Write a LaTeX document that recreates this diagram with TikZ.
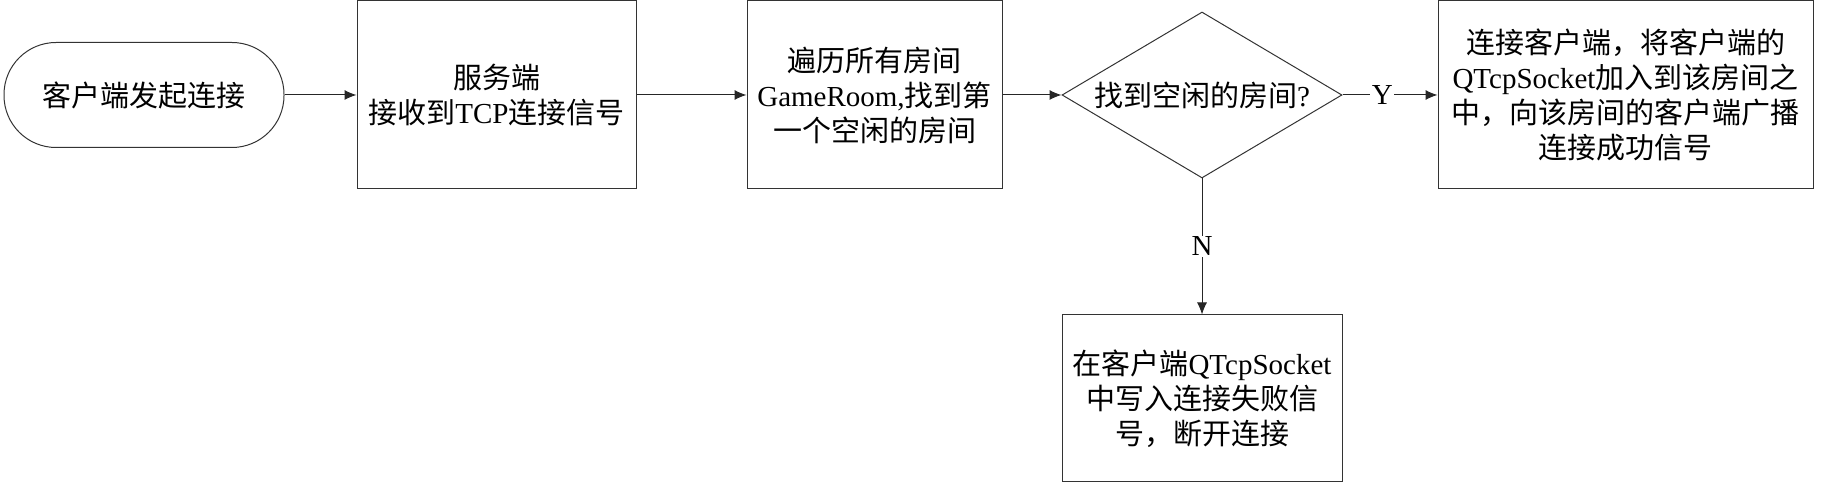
\documentclass[tikz,border=0pt]{standalone}
\usepackage{fontspec}
\setmainfont{Liberation Serif}
\newfontfamily\cjk{Noto Sans CJK SC}
\newcommand{\zh}[1]{{\cjk #1}}
\usetikzlibrary{shapes.geometric,arrows.meta}

\begin{document}
\begin{tikzpicture}[x=1pt,y=1pt,
	box/.style={draw=black!80, line width=1pt, align=center, inner sep=0pt,
		font=\fontsize{29}{35}\selectfont},
	arr/.style={draw=black!85, line width=1pt, -{Latex[length=12pt,width=10pt]}},
	lbl/.style={fill=white, inner sep=1.5pt, font=\fontsize{29}{32}\selectfont}]
			\useasboundingbox (0,0) rectangle (1825,484);
			\node[box, rounded corners=52pt, minimum width=280, minimum height=105] (start) at (144,389) {\zh{客户端发起连接}};
			\node[box, minimum width=279, minimum height=188] (recv) at (496.5,389) {\zh{服务端}\\\zh{接收到}TCP\zh{连接信号}};
			\node[box, minimum width=255, minimum height=188] (scan) at (874.5,389) {\zh{遍历所有房间}\\GameRoom,\zh{找到第}\\\zh{一个空闲的房间}};
			\node[box, diamond, aspect=1.687, minimum width=280, minimum height=166] (found) at (1202,389) {\zh{找到空闲的房间}?};
			\node[box, minimum width=375, minimum height=188] (join) at (1625.5,389) {\zh{连接客户端，将客户端的}\\QTcpSocket\zh{加入到该房间之}\\\zh{中，向该房间的客户端广播}\\\zh{连接成功信号}};
			\node[box, minimum width=280, minimum height=167] (fail) at (1202,85.5) {\zh{在客户端}QTcpSocket\\\zh{中写入连接失败信}\\\zh{号，断开连接}};
			\draw[arr] (start) -- (recv);
			\draw[arr] (recv) -- (scan);
			\draw[arr] (scan) -- (found);
			\draw[arr] (found) -- node[lbl, pos=.42]{Y} (join);
			\draw[arr] (found) -- node[lbl, pos=.5]{N} (fail);
		\end{tikzpicture}
\end{document}
